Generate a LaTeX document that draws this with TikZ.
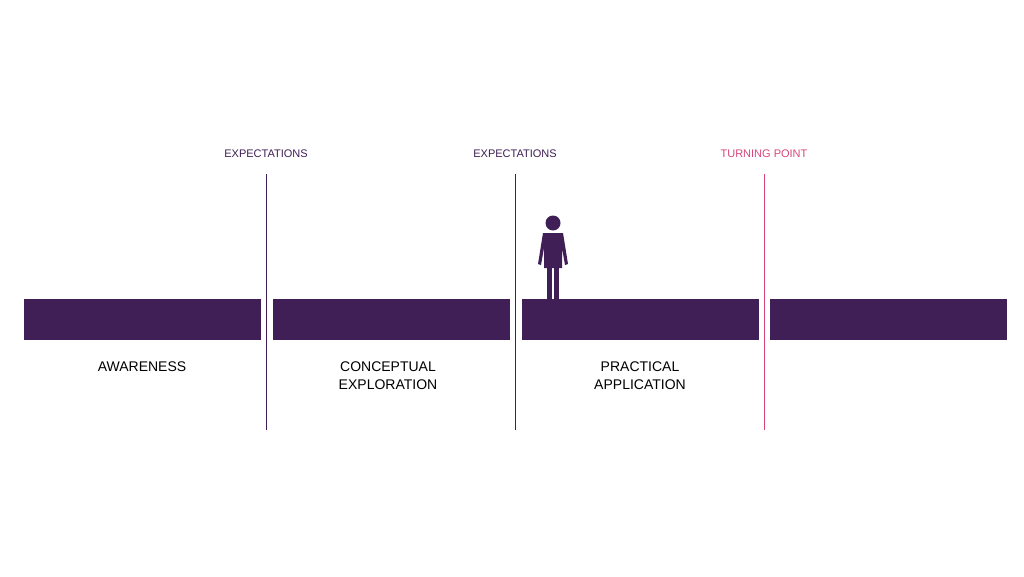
\documentclass[tikz,border=0pt]{standalone}
\usepackage{fontspec}
\setmainfont{Liberation Sans}
\usetikzlibrary{positioning}
\definecolor{deep}{HTML}{3F1F55}
\definecolor{rose}{HTML}{D6457A}
\tikzset{
    bar/.style={fill=deep, draw=none},
    gate/.style={line width=1pt},
    toplabel/.style={font=\fontsize{11}{13}\selectfont, inner sep=0pt},
    phase/.style={font=\fontsize{14}{18}\selectfont, align=center, inner sep=0pt, anchor=north},
}
\begin{document}
\begin{tikzpicture}[x=1pt,y=-1pt]
    \useasboundingbox (0,0) rectangle (1024,576);
    % bars
    \foreach \x in {24,273,522,770}
        \fill[bar] (\x,299) rectangle ++(237,41);
    % gates
    \coordinate (g1t) at (266,174); \coordinate (g1b) at (266,430);
    \coordinate (g2t) at (515,174); \coordinate (g2b) at (515,430);
    \coordinate (g3t) at (764,174); \coordinate (g3b) at (764,430);
    \draw[gate, deep] (g1t) -- (g1b);
    \draw[gate, deep] (g2t) -- (g2b);
    \draw[gate, rose] (g3t) -- (g3b);
    \node[toplabel, text=deep] (e1) at (266,154) {EXPECTATIONS};
    \node[toplabel, text=deep] (e2) at (515,154) {EXPECTATIONS};
    \node[toplabel, text=rose] (tp) at (764,154) {TURNING POINT};
    % phases
    \node[phase] (aw) at (142,362) {AWARENESS};
    \node[phase] (ce) at (388,362) {CONCEPTUAL\\EXPLORATION};
    \node[phase] (pa) at (640,362) {PRACTICAL\\APPLICATION};
    % person
    \fill[deep] (553,223) circle (7.5);
    \fill[deep] (543,233) -- (563,233) -- (568,264) -- (565,265) -- (562,248)
        -- (562,268) -- (544,268) -- (544,248) -- (541,265) -- (538,264) -- cycle;
    \fill[deep] (547,267) rectangle (552,299);
    \fill[deep] (554,267) rectangle (559,299);
\end{tikzpicture}
\end{document}
